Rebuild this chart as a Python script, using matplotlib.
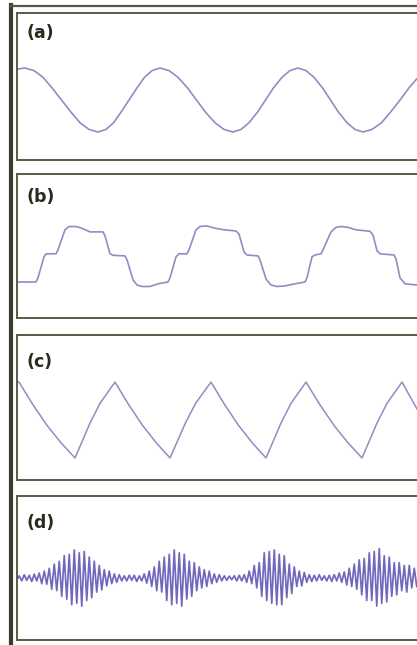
import numpy as np
import matplotlib
matplotlib.use("Agg")
import matplotlib.pyplot as plt
from matplotlib.lines import Line2D

# (a) sine-like wave: time samples and amplitude
a_t = [1, 8, 17, 26, 35, 44.5, 54, 63, 72, 81, 89, 96.5, 104, 112, 120, 127.5,
       135, 143, 152, 161, 170.5, 179.5, 188.5, 198, 207, 216, 224, 232, 240.5,
       248.5, 256.5, 265, 273, 281, 289, 297, 305.5, 313.5, 321.5, 330, 338, 346,
       355, 364.5, 373.5, 383, 392, 400]
a_y = [0.97, 1, .92, .71, .38, 0, -.38, -.71, -.92, -1, -.92, -.71, -.38, 0, .38,
       .71, .92, 1, .92, .71, .38, 0, -.38, -.71, -.92, -1, -.92, -.71, -.38, 0,
       .38, .71, .92, 1, .92, .71, .38, 0, -.38, -.71, -.92, -1, -.92, -.71, -.38,
       0, .38, .67]

# (b) stepped wave
b_t = [1, 19, 21, 27, 29, 39, 41, 48, 52, 59, 65, 73, 86, 88, 93, 96, 108, 110,
       116, 120, 125, 133, 141, 151, 153, 159, 162, 170, 172, 179, 183, 190, 197,
       207, 219, 222, 227, 230, 241, 243, 249, 254, 260, 268, 278, 288, 290, 295,
       298, 304, 306, 314, 319, 324, 331, 339, 353, 356, 360, 363, 377, 379, 383,
       388, 400]
b_y = [-.87, -.87, -.73, -.03, .07, .07, .2, .87, .98, .98, .92, .8, .8, .67, .07,
       .02, 0, -.13, -.8, -.97, -1.02, -1.02, -.93, -.87, -.73, -.03, .07, .07, .2,
       .87, .98, 1.0, .93, .87, .83, .73, .13, .03, 0, -.13, -.77, -.97, -1.02,
       -1.0, -.93, -.87, -.73, -.03, .03, .07, .2, .8, .95, .98, .95, .87, .82, .7,
       .17, .07, .03, -.1, -.73, -.93, -.97]

# (c) sawtooth / triangle wave
c_t = [1, 2, 16, 30, 44, 58, 73, 83, 98, 111.75, 125.5, 139.25, 153, 168.4,
       178.6, 194, 207.75, 221.5, 235.25, 249, 264, 274, 289, 303, 317, 331, 345,
       360, 370, 385, 400]
c_y = [1.0, 1.0, .4, -.14, -.6, -1, -.08, .44, 1, .4, -.14, -.6, -1, -.08, .44, 1,
       .4, -.14, -.6, -1, -.08, .44, 1, .4, -.14, -.6, -1, -.08, .44, 1, .29]

# (d) wave packets: upper and lower extreme of each carrier cycle
d_period = 5
d_top = [.08, .12, .1, .14, .18, .25, .35, .5, .6, .8, .85, 1.0, .9, .95, .75, .6, .45, .3, .25, .15, .12,
         .08, .1, .1, .08, .15,
         .25, .4, .6, .75, .85, 1.0, .9, .85, .6, .55, .4, .3, .25, .15, .12, .08, .07, .08, .1, .12,
         .25, .45, .55, .9, .95, 1.0, .85, .8, .5, .4, .25, .2, .12, .1, .12, .08, .1, .12, .18,
         .22, .35, .5, .65, .7, .9, .95, 1.05, .8, .75, .55, .55, .45, .45, .35]
d_bot = [-.1, -.08, -.12, -.1, -.2, -.22, -.4, -.45, -.65, -.75, -.95, -.9, -1.0, -.8, -.7, -.5, -.42, -.28, -.2, -.15, -.1,
         -.1, -.08, -.12, -.1, -.18,
         -.3, -.45, -.5, -.8, -.95, -.9, -1.0, -.75, -.65, -.45, -.35, -.3, -.2, -.15, -.1, -.08, -.06, -.1, -.1, -.15,
         -.2, -.35, -.65, -.8, -.9, -.95, -.95, -.7, -.55, -.3, -.28, -.15, -.12, -.1, -.08, -.1, -.12, -.1, -.15,
         -.25, -.3, -.4, -.6, -.8, -.8, -1.0, -.9, -.85, -.65, -.6, -.45, -.5, -.35, -.3]

labels = ["(a)", "(b)", "(c)", "(d)"]

W, H = 417, 645
fig = plt.figure(figsize=(W / 100, H / 100), dpi=100)
fig.patch.set_facecolor("white")

# panel boxes in pixels: (top, bottom), label offset from top
boxes = [(13, 160, 20), (174, 318, 23), (335, 480, 27), (496, 640, 27)]
ylims = [(-1.875, 2.72), (-2.07, 2.73), (-1.58, 2.24), (-2.21, 2.93)]
left_px, right_px = 17, 420

k = np.arange(len(d_top))
d_t = np.column_stack((k * d_period + 2.25, k * d_period + 4.75)).ravel()
d_y = np.column_stack((d_top, d_bot)).ravel()
d_t = np.concatenate(([1], d_t))
d_y = np.concatenate(([0], d_y))

series = [(a_t, a_y, "#8f8dc2", 1.2), (b_t, b_y, "#8f8dc2", 1.2),
          (c_t, c_y, "#8f8dc2", 1.1), (d_t, d_y, "#7068bc", 1.25)]

for i, (top, bot, loff) in enumerate(boxes):
    ax = fig.add_axes([left_px / W, (H - bot) / H, (right_px - left_px) / W, (bot - top) / H])
    t, y, col, lw = series[i]
    ax.plot(t, y, color=col, lw=lw, solid_joinstyle="round")
    ax.set_xlim(0, right_px - left_px)
    ax.set_ylim(*ylims[i])
    ax.set_xticks([])
    ax.set_yticks([])
    for s in ax.spines.values():
        s.set_color("#5a5a48")
        s.set_linewidth(1.4)
    ax.text(10 / (right_px - left_px), 1 - loff / (bot - top), labels[i],
            transform=ax.transAxes, ha="left", va="center",
            fontsize=12.5, fontweight="bold", color="#2a2a1e")

# outer frame lines (left edge and top edge)
fig.add_artist(Line2D([10.5 / W, 10.5 / W], [0, 1 - 5 / H], color="#3c3c2c", lw=3.0))
fig.add_artist(Line2D([10 / W, 1], [1 - 5.5 / H, 1 - 5.5 / H], color="#55554a", lw=1.6))

fig.savefig("out.png", dpi=100, facecolor="white")
